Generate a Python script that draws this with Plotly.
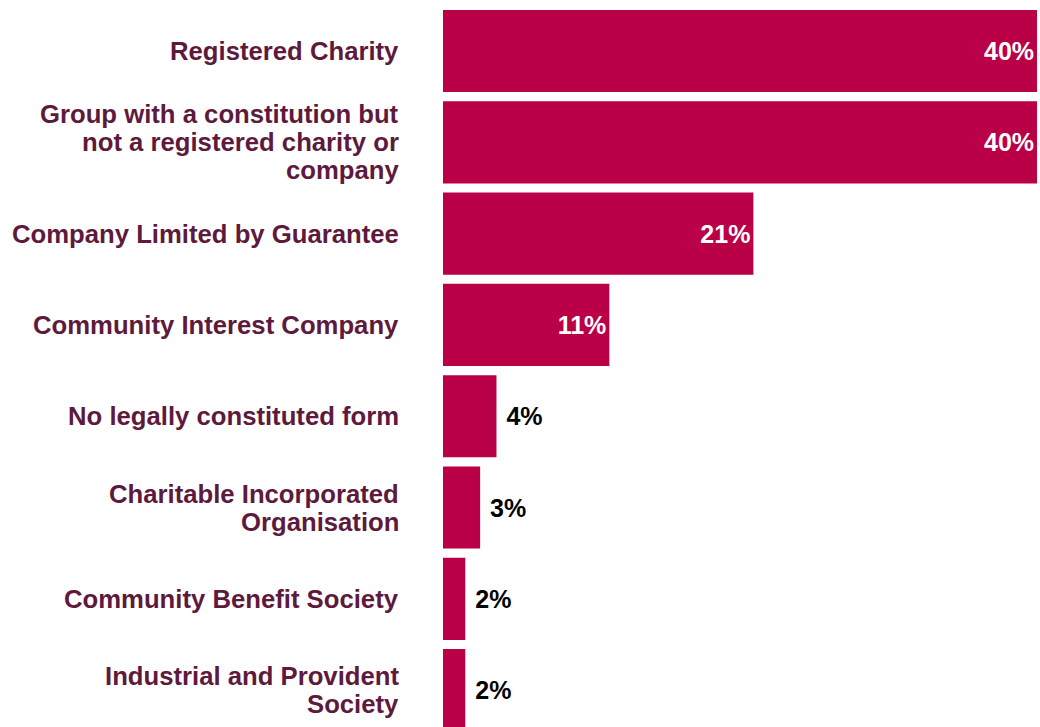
import plotly.graph_objects as go

categories = [
    "Registered Charity",
    "Group with a constitution but<br>not a registered charity or<br>company",
    "Company Limited by Guarantee",
    "Community Interest Company",
    "No legally constituted form",
    "Charitable Incorporated<br>Organisation",
    "Community Benefit Society",
    "Industrial and Provident<br>Society",
]
values = [40.0, 40.0, 20.9, 11.2, 3.6, 2.5, 1.5, 1.5]
value_labels = ["40%", "40%", "21%", "11%", "4%", "3%", "2%", "2%"]
inside = [True, True, True, True, False, False, False, False]

BAR = "#BA0046"
LABEL = "#5E1A3C"
FONT = "Liberation Sans, Arial, sans-serif"

ids = list(range(len(categories)))

texts = [t if ins else "\u00a0" + t for t, ins in zip(value_labels, inside)]
positions = ["inside" if ins else "outside" for ins in inside]
colors = ["white" if ins else "black" for ins in inside]

fig = go.Figure(
    go.Bar(
        y=ids,
        x=values,
        orientation="h",
        marker=dict(color=BAR, line=dict(width=0)),
        text=texts,
        textposition=positions,
        insidetextanchor="end",
        textfont=dict(family=FONT, size=25, color=colors, weight="bold"),
        cliponaxis=False,
        hoverinfo="skip",
    )
)

LINE_H = 28
annotations = []
for i, cat in enumerate(categories):
    lines = cat.split("<br>")
    n = len(lines)
    for j, ln in enumerate(lines):
        annotations.append(
            dict(
                xref="paper",
                yref="y",
                x=0,
                y=i,
                xanchor="right",
                yanchor="middle",
                xshift=-42,
                yshift=-((j - (n - 1) / 2) * LINE_H),
                text="<b>" + ln + "</b>",
                showarrow=False,
                font=dict(family=FONT, size=25.7, color=LABEL),
            )
        )

fig.update_layout(
    width=1040,
    height=727,
    margin=dict(l=443, r=0, t=0, b=0),
    paper_bgcolor="white",
    plot_bgcolor="white",
    bargap=0.1,
    showlegend=False,
    annotations=annotations,
    xaxis=dict(range=[0, 40.2], visible=False, fixedrange=True),
    yaxis=dict(
        range=[7.404, -0.559],
        showticklabels=False,
        showgrid=False,
        zeroline=False,
        showline=False,
        ticks="",
        fixedrange=True,
    ),
    uniformtext=dict(mode=False),
)

fig.write_html(
    "out.html",
    config={"displayModeBar": False},
    post_script="document.body.style.margin='0';document.body.style.overflow='hidden';",
)
